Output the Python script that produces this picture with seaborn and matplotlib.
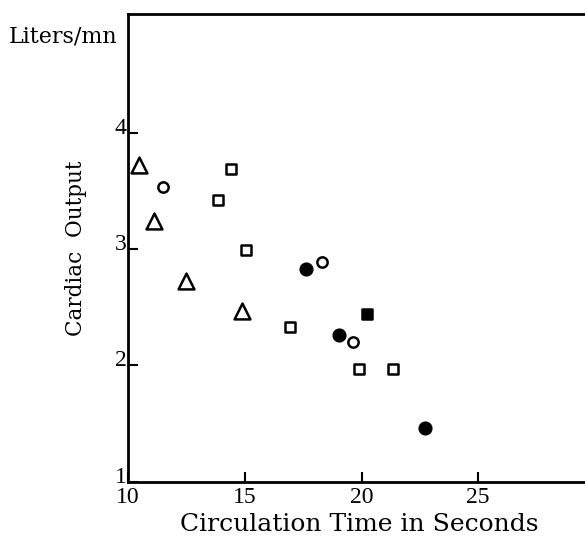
import numpy as np
import pandas as pd
import matplotlib
matplotlib.use("Agg")
import matplotlib.pyplot as plt
import matplotlib.transforms as mtransforms
import seaborn as sns

# circulation time (s) vs cardiac output (L/min), by symbol group
tri_x = [10.45, 11.1, 12.5, 14.9]
tri_y = [3.72, 3.24, 2.73, 2.47]

ocirc_x = [11.5, 18.3, 19.65]
ocirc_y = [3.53, 2.89, 2.20]

osq_x = [14.4, 13.85, 15.05, 16.95, 19.9, 21.35]
osq_y = [3.69, 3.42, 2.99, 2.33, 1.97, 1.97]

fcirc_x = [17.6, 19.05, 22.7]
fcirc_y = [2.83, 2.26, 1.46]

fsq_x = [20.25]
fsq_y = [2.44]

xticks = [10, 15, 20, 25]
yticks = [1, 2, 3, 4]

sns.set_style("ticks", {"axes.edgecolor": "black", "text.color": "black",
                        "xtick.color": "black", "ytick.color": "black",
                        "axes.labelcolor": "black"})
plt.rcParams["font.family"] = ["Liberation Serif", "DejaVu Serif"]

fig = plt.figure(figsize=(5.85, 5.42), dpi=100)
ax = fig.add_axes([0.219, 0.111, 0.79, 0.863])

groups = [
    (tri_x, tri_y, "^", "white", 130),
    (ocirc_x, ocirc_y, "o", "white", 55),
    (osq_x, osq_y, "s", "white", 60),
    (fcirc_x, fcirc_y, "o", "black", 70),
    (fsq_x, fsq_y, "s", "black", 60),
]
for gx, gy, m, fc, s in groups:
    df = pd.DataFrame({"x": gx, "y": gy})
    sns.scatterplot(data=df, x="x", y="y", marker=m, s=s, color=fc,
                    edgecolor="black", linewidth=1.8, ax=ax, zorder=3)

ax.set_xlim(10, 29.8)
ax.set_ylim(1, 5.02)
ax.set_xticks(xticks)
ax.set_yticks(yticks)
ax.tick_params(direction="in", length=7, width=1.5, labelsize=17)
ax.tick_params(axis="x", pad=4)
ax.tick_params(axis="y", pad=1)
ax.spines["right"].set_visible(False)
for sp in ["left", "bottom", "top"]:
    ax.spines[sp].set_linewidth(2)

# y tick labels sit a little above their ticks
shift = mtransforms.ScaledTranslation(0, 7 / 100, fig.dpi_scale_trans)
for lab in ax.get_yticklabels():
    lab.set_transform(lab.get_transform() + shift)

ax.set_xlabel("Circulation Time in Seconds", fontsize=18,
              family="DejaVu Serif", labelpad=3)
ax.set_ylabel("Cardiac  Output", fontsize=15.5, family="DejaVu Serif",
              labelpad=20)
fig.text(0.015, 0.932, "Liters/mn", fontsize=16, family="DejaVu Serif",
         ha="left", va="center")

fig.savefig("out.png", dpi=100)
